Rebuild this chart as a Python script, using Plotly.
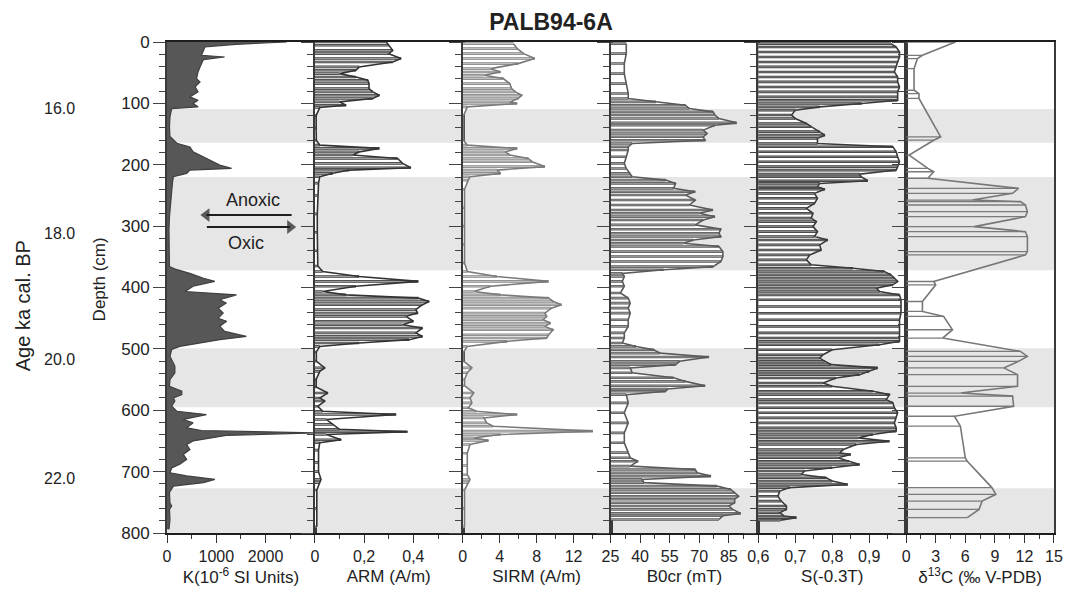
import plotly.graph_objects as go
from plotly.subplots import make_subplots

# ---------------- data ----------------
k_depth = [0, 3.8, 8.1, 13.6, 21.7, 24.4, 28.7, 40.7, 48.8, 59.6, 65, 73.2, 81.3, 89.4, 94.9, 100.3, 105.7, 108.4,
           122, 138, 154, 165, 171, 179, 187, 195, 200.5, 206, 208.7, 214, 219.5, 230, 247, 263, 285, 306, 328, 350, 366,
           371, 377, 385, 390, 398, 406.5, 412, 420, 425.5, 433.6, 441.7, 450, 455, 463, 471.5, 479.7, 485, 490.5, 496,
           501, 512, 528, 539, 550, 561, 569, 574.5, 580, 585, 593.5, 601.6, 607, 615, 620.6, 628.7, 633, 636.9, 641,
           645, 650, 655.8, 664, 672, 680, 688, 694, 702, 707, 712.7, 718, 723.6, 734, 751, 756, 761.5, 778, 794]
k_val = [2430, 1400, 770, 740, 700, 1170, 740, 670, 630, 600, 670, 570, 630, 465, 630, 530, 630, 95,
         60, 50, 60, 200, 465, 530, 735, 940, 1070, 1310, 465, 400, 130, 110, 90, 80, 50, 40, 40, 40, 50,
         200, 465, 740, 970, 530, 365, 1410, 1070, 1200, 1040, 1140, 1040, 1210, 1070, 1170, 1610, 1070, 670, 260,
         95, 60, 160, 160, 60, 50, 300, 300, 130, 160, 95, 200, 800, 330, 530, 400, 700, 3000, 1200,
         900, 530, 400, 465, 330, 400, 260, 95, 60, 400, 970, 740, 130, 50, 60, 95, 50, 60, 40]

arm_depth = [0, 5.4, 13.6, 19, 27, 32.5, 40.6, 46, 51.5, 57, 62.3, 67.8, 75.9, 81.3, 86.7, 92, 97.6, 103, 106.8,
             120, 140, 160, 168, 173.4, 179, 184, 189.7, 197.8, 205, 208.7, 214, 219.5, 230, 250, 280, 310, 340, 365,
             374, 382, 390, 398, 406.5, 412, 417.3, 422.8, 428, 436, 441.7, 447, 455, 460.7, 466, 474, 479.7, 485,
             490.5, 496, 505, 520, 531, 536.6, 550, 562, 571.8, 580, 585, 593.5, 601.6, 607, 615, 623, 631, 635,
             639.6, 648, 653, 665, 685, 700, 712.7, 718, 730, 760, 790]
arm_val = [0.29, 0.30, 0.316, 0.30, 0.35, 0.316, 0.18, 0.167, 0.10, 0.167, 0.215, 0.22, 0.22, 0.235, 0.262, 0.235,
           0.10, 0.127, 0.02, 0.005, 0.005, 0.006, 0.02, 0.262, 0.18, 0.154, 0.336, 0.356, 0.39, 0.14, 0.073, 0.02,
           0.015, 0.012, 0.01, 0.01, 0.01, 0.012, 0.032, 0.18, 0.42, 0.167, 0.032, 0.127, 0.42, 0.464, 0.437, 0.41,
           0.417, 0.37, 0.40, 0.356, 0.437, 0.41, 0.437, 0.383, 0.18, 0.02, 0.006, 0.006, 0.04, 0.02, 0.005, 0.005,
           0.053, 0.02, 0.04, 0.012, 0.032, 0.33, 0.046, 0.073, 0.10, 0.376, 0.046, 0.107, 0.02, 0.015, 0.015, 0.015,
           0.025, 0.02, 0.008, 0.008, 0.008]

sirm_depth = [2.7, 10.8, 19, 27, 35.2, 43.4, 48.8, 54.2, 59.6, 67.8, 75.9, 81.3, 86.7, 92, 97.6, 100.3, 105.7,
              120, 140, 160, 168, 173.4, 179, 184, 189.7, 195, 203, 208.7, 214, 219.5, 225, 240, 270, 300, 330, 360,
              374, 382, 390, 398, 406.5, 412, 417.3, 422.8, 428, 433.6, 441.7, 447, 452.6, 458, 463.4, 468.8, 477,
              482.4, 487.8, 496, 505, 520, 531, 539, 550, 560, 571.8, 580, 588, 596, 601.6, 607, 612.5, 620.6, 626,
              634, 639.6, 645, 649.3, 655.8, 670, 690, 705, 712.7, 718, 730, 760, 790]
sirm_val = [5.5, 5.9, 6.6, 7.8, 6.0, 3.0, 4.1, 2.3, 4.4, 5.1, 5.3, 5.7, 6.4, 6.0, 5.1, 5.9, 0.5,
            0.1, 0.1, 0.1, 0.5, 5.9, 4.6, 5.1, 7.1, 7.5, 8.9, 3.7, 4.1, 0.8, 0.6, 0.2, 0.2, 0.2, 0.2, 0.2,
            0.5, 3.7, 9.3, 3.0, 1.2, 4.1, 9.3, 9.8, 10.7, 9.6, 8.9, 9.1, 8.7, 9.5, 8.9, 9.8, 9.3,
            9.1, 4.8, 0.5, 0.1, 0.1, 1.0, 0.5, 0.2, 0.2, 1.2, 0.8, 1.0, 0.6, 1.5, 5.9, 2.3, 2.6, 3.3,
            14.1, 4.1, 1.2, 2.8, 0.8, 0.5, 0.5, 0.5, 0.8, 0.6, 0.2, 0.2, 0.2]

b0cr_depth = [2.7, 19, 35, 51.5, 67.8, 84, 92, 97.6, 103, 108.4, 113.8, 119, 124.7, 131.7, 135.5, 143.6, 149,
              154.5, 160, 165.3, 170.7, 176, 187, 197.8, 206, 214, 219.5, 225, 230.4, 238.5, 244, 249.3, 257.5,
              265.6, 273.7, 279, 284.6, 290, 298, 305, 311.6, 317, 322.5, 328, 333.3, 341.5, 349.6, 357.7, 366,
              371, 377, 382, 390, 398, 409, 417.3, 425.5, 433.6, 441.7, 452.6, 463.4, 474, 482.4, 490.5, 496,
              501.4, 507, 513.3, 520.3, 525.7, 531, 539, 547, 553, 560, 565.3, 569, 574.5, 588, 604, 620.6, 636.9,
              653, 669, 677.5, 683, 691, 696.5, 702, 707.3, 712.7, 718, 723.6, 729, 734.4, 740, 745, 750.7, 756,
              761.5, 768, 772, 778]
b0cr_val = [33, 33, 32, 32, 33, 34, 34, 48, 63, 65, 77, 78, 80, 89, 78, 72, 74,
            72, 73, 36, 34, 34, 33, 32, 33, 35, 36, 53, 58, 57, 68, 63, 68,
            65, 77, 70, 78, 72, 68, 81, 80, 81, 67, 62, 80, 82, 82, 81, 77,
            52, 31, 32, 31, 32, 30, 34, 35, 34, 35, 34, 34, 32, 32, 31, 38,
            47, 50, 75, 60, 58, 35, 36, 57, 63, 73, 54, 53, 33, 34, 32, 34, 32,
            32, 34, 35, 39, 35, 68, 69, 76, 41, 42, 79, 86, 88, 90, 88, 88, 85,
            87, 91, 82, 80]

s_depth = [2.7, 8.1, 16.3, 24.4, 32.5, 40.6, 48.8, 57, 65, 73.2, 81.3, 89.4, 94.9, 100.3, 105.7, 111, 119, 124.7,
           132.8, 138, 146, 151.8, 157, 165.3, 170.7, 178.8, 187, 195, 203, 208.7, 215.2, 219.5, 226, 230.4, 235.8,
           240, 246.6, 254.7, 262.9, 271, 279, 287, 292.7, 300.8, 309, 317, 322.5, 330.6, 338.8, 346.9, 355, 363.1,
           368.6, 374, 379.4, 384.8, 390.2, 395.7, 401, 406.5, 412, 420, 431, 442, 452.6, 463.4, 474, 482.4, 487.8,
           493.2, 501.4, 509.5, 515, 520.3, 525.7, 531, 536.6, 542, 547.4, 555.6, 561, 569, 574.5, 582.7, 588, 596,
           604, 612.5, 620.6, 628.7, 634, 639.6, 645, 650.4, 655.8, 664, 669.4, 672, 677.5, 683, 688.3, 693.8, 699,
           704.6, 710, 715.4, 721, 726, 731.7, 740, 748, 756, 761.5, 767, 772.4, 775, 779]
s_val = [0.959, 0.973, 0.982, 0.982, 0.977, 0.973, 0.968, 0.977, 0.977, 0.982, 0.977, 0.977, 0.977, 0.88, 0.766,
         0.70, 0.69, 0.70, 0.73, 0.743, 0.766, 0.78, 0.76, 0.76, 0.964, 0.973, 0.977, 0.982, 0.977, 0.973, 0.874,
         0.878, 0.896, 0.766, 0.76, 0.78, 0.752, 0.76, 0.752, 0.73, 0.748, 0.743, 0.757, 0.748, 0.76, 0.752, 0.788,
         0.766, 0.77, 0.739, 0.73, 0.743, 0.856, 0.941, 0.959, 0.968, 0.977, 0.964, 0.919, 0.928, 0.982, 0.986,
         0.986, 0.986, 0.982, 0.982, 0.982, 0.982, 0.982, 0.928, 0.80, 0.775, 0.766, 0.78, 0.797, 0.923, 0.90,
         0.874, 0.81, 0.775, 0.80, 0.91, 0.955, 0.946, 0.964, 0.968, 0.977, 0.973, 0.968, 0.973, 0.973, 0.91,
         0.87, 0.955, 0.865, 0.83, 0.82, 0.85, 0.815, 0.845, 0.874, 0.80, 0.725, 0.716, 0.784, 0.80, 0.842,
         0.685, 0.658, 0.653, 0.662, 0.676, 0.676, 0.658, 0.67, 0.703, 0.66]

d13c_depth = [0, 21.7, 27, 43.4, 78.6, 84, 92, 154.5, 160, 184.3, 206, 211.4, 222, 238.5, 246.6, 257.5, 260,
              265.6, 276.4, 284.6, 300.8, 309, 317, 341.5, 346.9, 390.2, 395.7, 422.8, 439, 447, 468.8, 482.4,
              504.1, 512.2, 520.3, 531, 542, 561, 572, 577, 593.5, 609.8, 626, 677.5, 683, 726, 737, 748, 761.5, 775]
d13c_val = [5.0, 1.65, 1.15, 0.8, 0.8, 1.3, 1.3, 3.5, 2.8, 0.3, 2.2, 2.8, 2.2, 11.4, 10.8, 6.7, 11.6,
            12.1, 12.3, 12.1, 6.9, 12.1, 12.3, 12.3, 12.1, 2.8, 3.0, 1.65, 1.65, 3.8, 4.7, 3.7,
            11.6, 12.3, 11.4, 9.9, 11.3, 11.3, 5.5, 10.8, 10.9, 4.9, 5.5, 6.0, 6.2, 8.7, 9.1, 7.7, 7.4, 6.2]

# shaded (anoxic) depth intervals, cm
band_top = [109, 220, 499, 727]
band_bottom = [164, 372, 595, 800]

# age scale (ka cal. BP) at depth
age_labels = ["16.0", "18.0", "20.0", "22.0", "24.0"]
age_depths = [109, 312, 517, 712, 803]

x_titles = ["K(10<sup>-6</sup> SI Units)", "ARM (A/m)", "SIRM (A/m)", "B0cr (mT)", "S(-0.3T)",
            "δ<sup>13</sup>C (‰ V-PDB)"]
x_ranges = [[0, 3000], [0, 0.6], [0, 16], [25, 100], [0.6, 1.0], [0, 15]]
x_tickvals = [[0, 1000, 2000], [0, 0.2, 0.4], [0, 4, 8, 12], [25, 40, 55, 70, 85], [0.6, 0.7, 0.8, 0.9],
              [0, 3, 6, 9, 12, 15]]
x_ticktext = [["0", "1000", "2000"], ["0", "0,2", "0,4"], ["0", "4", "8", "12"], ["25", "40", "55", "70", "85"],
              ["0,6", "0,7", "0,8", "0,9"], ["0", "3", "6", "9", "12", "15"]]
x_minor = [(0, 500), (0, 0.1), (0, 2), (25, 7.5), (0.6, 0.05), (0, 1.5)]

FONT = "Liberation Sans, Arial, Helvetica, sans-serif"
TXT = "#222"

fig = make_subplots(rows=1, cols=6, shared_yaxes=True, horizontal_spacing=0)

# K panel: solid dark fill
fig.add_trace(go.Scatter(x=k_val, y=k_depth, mode="lines", fill="tozerox", fillcolor="#575757",
                         line=dict(color="#3f3f3f", width=1.2), hoverinfo="skip"), row=1, col=1)


def segments(depths, vals, start):
    sx, sy = [], []
    for d, v in zip(depths, vals):
        sx += [start, v, None]
        sy += [d, d, None]
    return sx, sy


def striped(col, depths, vals, start, edge_col, fill_col, line_col):
    # white area under the profile
    fig.add_trace(go.Scatter(x=vals, y=depths, mode="lines", fill="tozerox", fillcolor="white",
                             line=dict(width=0), hoverinfo="skip"), row=1, col=col)
    sx, sy = segments(depths, vals, start)
    fig.add_trace(go.Scatter(x=sx, y=sy, mode="lines", line=dict(color=edge_col, width=2.6),
                             hoverinfo="skip"), row=1, col=col)
    fig.add_trace(go.Scatter(x=sx, y=sy, mode="lines", line=dict(color=fill_col, width=1.1),
                             hoverinfo="skip"), row=1, col=col)
    fig.add_trace(go.Scatter(x=vals, y=depths, mode="lines", line=dict(color=line_col, width=1.6),
                             hoverinfo="skip"), row=1, col=col)


striped(2, arm_depth, arm_val, 0, "#3c3c3c", "#9a9a9a", "#333333")
striped(3, sirm_depth, sirm_val, 0, "#858585", "#bdbdbd", "#7a7a7a")
striped(4, b0cr_depth, b0cr_val, 20, "#5a5a5a", "#969696", "#5a5a5a")
striped(5, s_depth, s_val, 0.55, "#383838", "#858585", "#3a3a3a")

# d13C panel: horizontal sample lines + profile
seg_x, seg_y = segments(d13c_depth, d13c_val, 0)
fig.add_trace(go.Scatter(x=seg_x, y=seg_y, mode="lines", line=dict(color="#7a7a7a", width=1.3),
                         hoverinfo="skip"), row=1, col=6)
fig.add_trace(go.Scatter(x=d13c_val, y=d13c_depth, mode="lines", line=dict(color="#777777", width=1.6),
                         hoverinfo="skip"), row=1, col=6)

# Anoxic / Oxic arrows (K panel)
fig.add_trace(go.Scatter(x=[2529, 800], y=[282, 282], mode="lines+markers",
                         line=dict(color="#1e1e1e", width=2),
                         marker=dict(symbol=["line-ns", "triangle-left"], size=[0, 12], color="#1e1e1e",
                                     line=dict(width=0)),
                         hoverinfo="skip"), row=1, col=1)
fig.add_trace(go.Scatter(x=[809, 2500], y=[301.5, 301.5], mode="lines+markers",
                         line=dict(color="#1e1e1e", width=2),
                         marker=dict(symbol=["line-ns", "triangle-right"], size=[0, 12], color="#1e1e1e",
                                     line=dict(width=0)),
                         hoverinfo="skip"), row=1, col=1)

# shaded bands across all panels
for t, b in zip(band_top, band_bottom):
    fig.add_shape(type="rect", xref="paper", yref="y", x0=0, x1=1, y0=t, y1=b,
                  fillcolor="#e6e6e6", line=dict(width=0), layer="below")

for i in range(6):
    fig.update_xaxes(row=1, col=i + 1, range=x_ranges[i], tickmode="array", tickvals=x_tickvals[i],
                     ticktext=x_ticktext[i], ticks="outside", ticklen=8, tickwidth=1.3, tickcolor="#333",
                     minor=dict(tick0=x_minor[i][0], dtick=x_minor[i][1], ticks="outside", ticklen=4,
                                tickwidth=1.2, tickcolor="#333", showgrid=False),
                     showgrid=False, zeroline=False, showline=True, mirror=True, linewidth=2, linecolor="#1e1e1e",
                     tickfont=dict(family=FONT, size=16, color=TXT),
                     title=dict(text=x_titles[i], font=dict(family=FONT, size=17, color=TXT), standoff=6))

fig.update_yaxes(range=[800, 0], tickmode="linear", tick0=0, dtick=100, ticks="outside", ticklen=12,
                 tickwidth=1.3, tickcolor="#444",
                 minor=dict(dtick=20, tick0=0, ticks="outside", ticklen=6, tickwidth=1.2, tickcolor="#444",
                            showgrid=False),
                 showgrid=False, zeroline=False, showline=True, mirror=True, linewidth=2, linecolor="#3a3a3a",
                 tickfont=dict(family=FONT, size=17, color=TXT))

annotations = []
for lab, d in zip(age_labels, age_depths):
    annotations.append(dict(text=lab, xref="paper", yref="y", x=-0.101, y=d, xanchor="right",
                            yanchor="middle", showarrow=False, font=dict(family=FONT, size=16, color=TXT)))
annotations.append(dict(text="Age ka cal. BP", xref="paper", yref="paper", x=-0.162, y=0.4625,
                        textangle=-90, showarrow=False, xanchor="center", yanchor="middle",
                        font=dict(family=FONT, size=20, color=TXT)))
annotations.append(dict(text="Depth (cm)", xref="paper", yref="paper", x=-0.0764, y=0.517,
                        textangle=-90, showarrow=False, xanchor="center", yanchor="middle",
                        font=dict(family=FONT, size=17, color=TXT)))
annotations.append(dict(text="Anoxic", xref="x", yref="y", x=1740, y=258, showarrow=False,
                        font=dict(family=FONT, size=18, color=TXT)))
annotations.append(dict(text="Oxic", xref="x", yref="y", x=1600, y=328, showarrow=False,
                        font=dict(family=FONT, size=18, color=TXT)))

fig.update_layout(
    width=1075, height=595,
    margin=dict(l=167, r=18, t=42, b=60, pad=0),
    plot_bgcolor="white", paper_bgcolor="white",
    showlegend=False,
    font=dict(family=FONT, color=TXT),
    title=dict(text="<b>PALB94-6A</b>", x=551 / 1075, xref="container", xanchor="center",
               y=1 - 22 / 595, yref="container", yanchor="middle",
               font=dict(family=FONT, size=23, color=TXT)),
    annotations=annotations,
)

fig.write_html("out.html", config={"displayModeBar": False},
               post_script="document.body.style.margin='0';")
